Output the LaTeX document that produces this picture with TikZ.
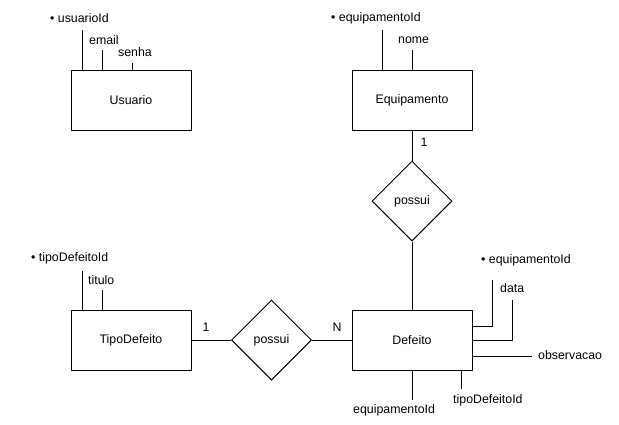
\documentclass[tikz,border=0pt]{standalone}
\usepackage{fontspec}
\setmainfont{Liberation Sans}
\usetikzlibrary{shapes.geometric, positioning, calc}

\begin{document}
\begin{tikzpicture}[
      x=1bp,
      y=-1bp,
      every node/.style={
          font=\fontsize{12.4}{15}\selectfont
        },
      entity/.style={
          rectangle,
          draw,
          line width=1bp,
          minimum width=120bp,
          minimum height=60bp,
          inner sep=0pt
        },
      rel/.style={
          diamond,
          draw,
          line width=1bp,
          aspect=1,
          minimum width=80bp,
          minimum height=80bp,
          inner sep=0pt
        },
      attr/.style={
          anchor=west,
          inner sep=0pt
        },
      card/.style={
          inner sep=0pt
        },
      link/.style={
          line width=1bp
        }
    ]
    \useasboundingbox (0,0) rectangle (619,424);

    % Nodes
    \node[entity] (usuario) at (131,100) {Usuario};
    \node[entity] (equip) at (412,100) {Equipamento};
    \node[entity] (tipo) at (131,340) {TipoDefeito};
    \node[entity] (defeito) at (412,340) {Defeito};
    \node[rel] (possui1) at (412,201) {possui};
    \node[rel] (possui2) at (271.5,340) {possui};

    % Attributes
    \node[attr] (usuarioId) at (50,18) {• usuarioId};
    \node[attr] (email) at (89,40) {email};
    \node[attr] (senha) at (118,52) {senha};
    \node[attr] (equipId) at (331,18) {• equipamentoId};
    \node[attr] (nome) at (398,40) {nome};
    \node[attr] (tipoId) at (31,258) {• tipoDefeitoId};
    \node[attr] (titulo) at (88,280) {titulo};
    \node[attr] (defEquipId) at (481,260) {• equipamentoId};
    \node[attr] (data) at (500,288) {data};
    \node[attr] (obs) at (538,355) {observacao};
    \node[attr] (defEquipFk) at (353,410) {equipamentoId};
    \node[attr] (defTipoFk) at (453,400) {tipoDefeitoId};

    % Cardinalities
    \node[card] (card1) at (424,142) {1};
    \node[card] (card2) at (206,327) {1};
    \node[card] (card3) at (337,327) {N};

    % Attribute lines
    \coordinate (uId) at (82,30);
    \coordinate (uEmail) at (102,50);
    \coordinate (uSenha) at (132,63);
    \coordinate (eId) at (382,30);
    \coordinate (eNome) at (412,50);
    \coordinate (tId) at (82,271);
    \coordinate (tTitulo) at (102,290);
    \coordinate (dEq) at (492,280);
    \coordinate (dData) at (512,300);
    \coordinate (dObs) at (532,356);
    \coordinate (dEqFk) at (412,400);
    \coordinate (dTipoFk) at (461,389);

    \draw[link] (uId) -- (uId |- usuario.north);
    \draw[link] (uEmail) -- (uEmail |- usuario.north);
    \draw[link] (uSenha) -- (uSenha |- usuario.north);
    \draw[link] (eId) -- (eId |- equip.north);
    \draw[link] (eNome) -- (eNome |- equip.north);
    \draw[link] (tId) -- (tId |- tipo.north);
    \draw[link] (tTitulo) -- (tTitulo |- tipo.north);
    \draw[link] (dEq) |- ([yshift=14bp]defeito.east);
    \draw[link] (dData) |- (defeito.east);
    \draw[link] (dObs) -- (dObs -| defeito.east);
    \draw[link] (dEqFk) -- (defeito.south);
    \draw[link] (dTipoFk) -- (dTipoFk |- defeito.south);

    % Relationships
    \draw[link] (equip) -- (possui1);
    \draw[link] (possui1) -- (defeito);
    \draw[link] (tipo) -- (possui2);
    \draw[link] (possui2) -- (defeito);
  \end{tikzpicture}
\end{document}
